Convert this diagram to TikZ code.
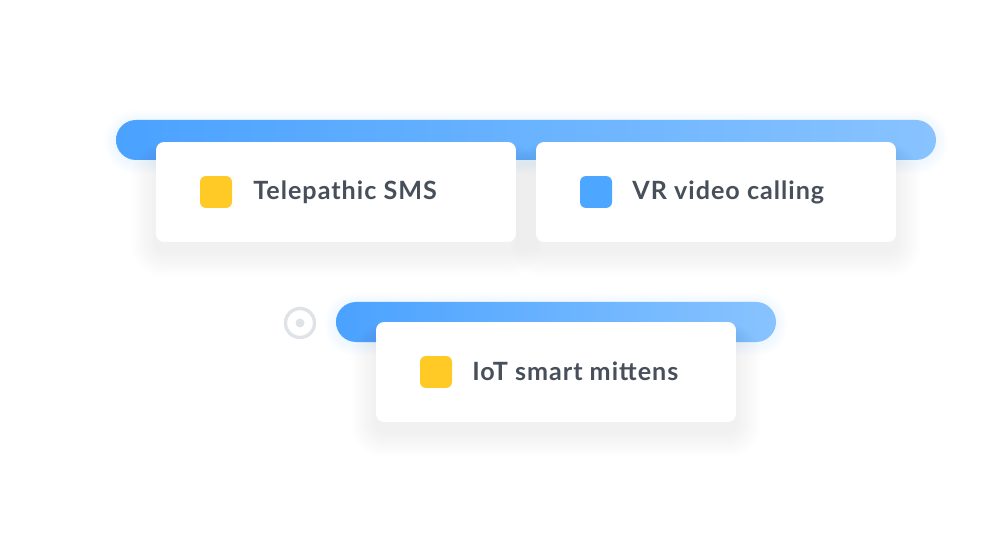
\documentclass[tikz,border=0pt]{standalone}
\usepackage{fontspec}
\setmainfont{Lato}
\definecolor{barL}{HTML}{4AA2FF}
\definecolor{barR}{HTML}{88C3FF}
\definecolor{sqY}{HTML}{FFC926}
\definecolor{sqB}{HTML}{4DA6FF}
\definecolor{txt}{HTML}{474F5A}
\definecolor{ring}{HTML}{DFE2E7}
\definecolor{shd}{HTML}{5A6478}
\tikzset{
  bar/.style={left color=barL, right color=barR, rounded corners=0.4cm},
  card/.style={fill=white, rounded corners=0.16cm, minimum width=7.2cm, minimum height=2cm, inner sep=0pt, draw=none},
  sq/.style={rounded corners=0.12cm, minimum size=0.64cm, inner sep=0pt},
  lbl/.style={anchor=base west, inner sep=0pt, text=txt, font=\fontsize{14.3}{16}\selectfont\bfseries\addfontfeatures{LetterSpace=4}},
  shlayer/.style={fill=shd, fill opacity=0.0036, draw=none},
  glowlayer/.style={fill=barL, fill opacity=0.008, draw=none},
}
\newcommand\mycardshadow[4]{%
  \foreach \i in {1,...,14}{
    \fill[shlayer, rounded corners={(8+1.8*\i)*0.02cm}]
      ({#1-1.8*\i},{#2+10-0.6*\i}) rectangle ({#3+1.8*\i},{#4+10+1.8*\i});
  }}
\newcommand\mybarglow[4]{%
  \foreach \i in {1,...,8}{
    \fill[glowlayer, rounded corners={(20+1.5*\i)*0.02cm}]
      ({#1-1.5*\i},{#2-1.5*\i+2}) rectangle ({#3+1.5*\i},{#4+1.5*\i+2});
  }}
\begin{document}
\begin{tikzpicture}[x=0.02cm,y=-0.02cm]
\useasboundingbox[fill=white] (0,0) rectangle (1000,540);
% top bar
\mybarglow{116}{120}{936}{160}
\shade[bar] (116,120) rectangle (936,160);
\mycardshadow{156}{142}{516}{242}
\mycardshadow{536}{142}{896}{242}
\node[card] (c1) at (336,192) {};
\node[card] (c2) at (716,192) {};
\node[sq, fill=sqY] (s1) at (216,192) {};
\node[lbl] (t1) at (253,200) {Telepathic SMS};
\node[sq, fill=sqB] (s2) at (596,192) {};
\node[lbl] (t2) at (632,200) {VR video calling};
% bottom bar
\mybarglow{336}{302}{776}{342}
\shade[bar] (336,302) rectangle (776,342);
\mycardshadow{376}{322}{736}{422}
\node[card] (c3) at (556,372) {};
\node[sq, fill=sqY] (s3) at (436,372) {};
\node[lbl] (t3) at (472,380) {IoT smart mittens};
% target icon
\node[circle, draw=ring, line width=1.9pt, minimum size=0.58cm, inner sep=0pt] (ic) at (300,323) {};
\node[circle, fill=ring, minimum size=0.18cm, inner sep=0pt] (icd) at (ic.center) {};
\end{tikzpicture}
\end{document}
